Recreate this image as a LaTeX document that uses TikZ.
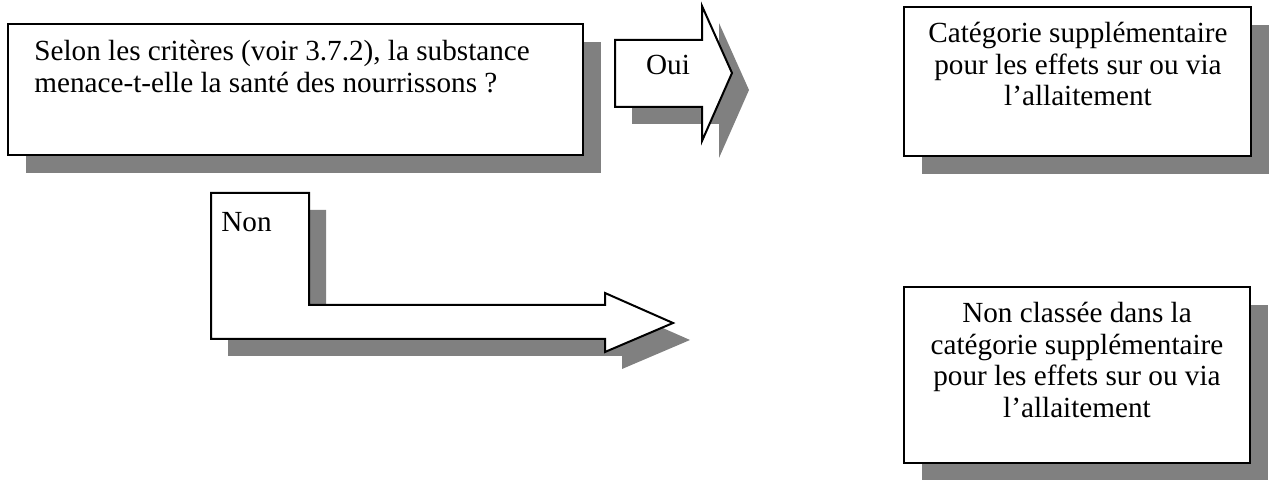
\documentclass[tikz,border=0pt]{standalone}
\usepackage{fontspec}
\setmainfont{Liberation Serif}
\begin{document}
\begin{tikzpicture}[x=0.5pt,y=-0.5pt,
  shade/.style={fill=black!50,draw=none},
  panel/.style={fill=white,draw=black,line width=1pt,line join=miter},
  lbl/.style={inner sep=0pt,font=\fontsize{14.6}{15.7}\selectfont}]
\useasboundingbox (0,0) rectangle (1270,480);

% drop shadows
\fill[shade] (26,42) rectangle (601,173);
\fill[shade] (632,57) -- (719,57) -- (719,23) -- (749,90) -- (719,158) -- (719,124) -- (632,124) -- cycle;
\fill[shade] (922,25) rectangle (1269,174);
\fill[shade] (228,210) -- (326,210) -- (326,322) -- (622,322) -- (622,310) -- (690,340) -- (622,369) -- (622,356) -- (228,356) -- cycle;
\fill[shade] (922,305) rectangle (1268,480);

% question box
\draw[panel] (8,24) rectangle (583,155);
\node[lbl,anchor=north west,align=left] (q) at (34,40)
  {Selon les critères (voir 3.7.2), la substance\\menace-t-elle la santé des nourrissons ?};

% "Oui" arrow
\draw[panel] (615,40) -- (702,40) -- (702,6) -- (732,73) -- (702,141) -- (702,107) -- (615,107) -- cycle;
\node[lbl] (oui) at (668,65) {Oui};

% result box (yes)
\draw[panel] (904,7) rectangle (1251,156);
\node[lbl,align=center] (yes) at (1078,64)
  {Catégorie supplémentaire\\pour les effets sur ou via\\l’allaitement};

% "Non" bent arrow
\draw[panel] (211,193) -- (309,193) -- (309,305) -- (605,305) -- (605,293) -- (673,323) -- (605,352) -- (605,339) -- (211,339) -- cycle;
\node[lbl,anchor=west] (non) at (221,222) {Non};

% result box (no)
\draw[panel] (904,287) rectangle (1250,463);
\node[lbl,align=center] (no) at (1077,360)
  {Non classée dans la\\catégorie supplémentaire\\pour les effets sur ou via\\l’allaitement};
\end{tikzpicture}
\end{document}
